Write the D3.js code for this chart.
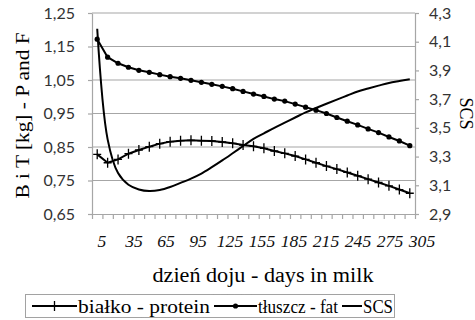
<!DOCTYPE html>
<html lang="pl">
<head>
<meta charset="utf-8">
<title>Białko, tłuszcz, SCS - dzień doju</title>
<script src="https://cdn.jsdelivr.net/npm/d3@7"></script>
<style>
  body { margin: 0; background: #fff; }
  .axis text { font-family: Lato, "Liberation Sans", sans-serif; font-size: 16px; fill: #333; }
  .serif { font-family: "Liberation Serif", "Times New Roman", "DejaVu Serif", "Liberation Sans", serif; }
</style>
</head>
<body>
<script>

// days in milk (categories)
var days = [5, 15, 25, 35, 45, 55, 65, 75, 85, 95, 105, 115, 125, 135, 145, 155,
            165, 175, 185, 195, 205, 215, 225, 235, 245, 255, 265, 275, 285, 295, 305];

// białko - protein [kg], left axis
var protein = [0.828, 0.803, 0.813, 0.830, 0.841, 0.851, 0.860, 0.866, 0.869, 0.870, 0.869,
               0.868, 0.865, 0.861, 0.856, 0.852, 0.846, 0.838, 0.831, 0.823, 0.813, 0.803,
               0.793, 0.784, 0.774, 0.764, 0.754, 0.744, 0.734, 0.723, 0.712];

// tłuszcz - fat [kg], left axis
var fat = [1.172, 1.118, 1.100, 1.088, 1.079, 1.073, 1.066, 1.060, 1.055, 1.049, 1.043,
           1.037, 1.031, 1.024, 1.016, 1.008, 1.001, 0.993, 0.987, 0.978, 0.969, 0.960,
           0.950, 0.938, 0.927, 0.916, 0.904, 0.893, 0.880, 0.868, 0.854];

// SCS, right axis
var scs = [4.19, 3.42, 3.185, 3.104, 3.071, 3.060, 3.067, 3.088, 3.117, 3.147, 3.182,
           3.226, 3.273, 3.323, 3.374, 3.424, 3.462, 3.500, 3.536, 3.572, 3.608, 3.638,
           3.668, 3.697, 3.725, 3.753, 3.774, 3.794, 3.813, 3.826, 3.838];

// tick labels
var leftTicks = [0.65, 0.75, 0.85, 0.95, 1.05, 1.15, 1.25];
var rightTicks = [2.9, 3.1, 3.3, 3.5, 3.7, 3.9, 4.1, 4.3];
var dayLabels = [5, 35, 65, 95, 125, 155, 185, 215, 245, 275, 305];

var w = 475, h = 320;
var pLeft = 92, pRight = 415, pTop = 13, pBottom = 214;
var gray = "#a6a6a6";

var pl = d3.formatLocale({decimal: ",", thousands: " ", grouping: [3], currency: ["", ""]});

var svg = d3.select("body").append("svg")
            .attr("width", w)
            .attr("height", h);

var x = d3.scaleBand().domain(days).range([pLeft, pRight]);
var yL = d3.scaleLinear().domain([0.65, 1.25]).range([pBottom, pTop]);
var yR = d3.scaleLinear().domain([2.9, 4.3]).range([pBottom, pTop]);
// category boundaries for the tick marks
var xEdge = d3.scaleLinear().domain([0, days.length]).range([pLeft, pRight]);
// label placement along the axis (labels drift right as in the original)
var xLab = d3.scaleLinear().domain([5, 305]).range([101.5, 421.5]);

function cxOf(i) { return x(days[i]) + x.bandwidth() / 2; }

// squeeze or stretch a text to a given width
function fitText(sel, width) {
  sel.attr("textLength", width).attr("lengthAdjust", "spacingAndGlyphs");
}

//Gridlines
svg.append("g")
   .selectAll("line")
   .data(leftTicks.slice(1))
   .enter()
   .append("line")
   .attr("x1", pLeft)
   .attr("x2", pRight)
   .attr("y1", function(d) { return yL(d); })
   .attr("y2", function(d) { return yL(d); })
   .attr("stroke", gray)
   .attr("stroke-width", 1.2);

//Axes
svg.append("g")
   .attr("class", "axis")
   .attr("transform", "translate(" + pLeft + ",0)")
   .call(d3.axisLeft(yL).tickValues(leftTicks).tickSize(4).tickSizeOuter(0).tickPadding(13)
           .tickFormat(pl.format(".2f")));

svg.append("g")
   .attr("class", "axis")
   .attr("transform", "translate(" + pRight + ",0)")
   .call(d3.axisRight(yR).tickValues(rightTicks).tickSize(4).tickSizeOuter(0).tickPadding(10)
           .tickFormat(pl.format(".1f")));

svg.append("g")
   .attr("class", "axis")
   .attr("transform", "translate(0," + pBottom + ")")
   .call(d3.axisBottom(xEdge).tickValues(d3.range(days.length + 1)).tickSize(5).tickSizeOuter(0)
           .tickFormat(""));

svg.selectAll(".axis path, .axis line")
   .attr("stroke", gray)
   .attr("stroke-width", 1.2);

//Day labels
var labs = svg.append("g")
   .attr("transform", "translate(0," + pBottom + ")")
   .call(d3.axisBottom(xLab).tickValues(dayLabels).tickSize(0).tickPadding(22));
labs.attr("font-family", null).attr("font-size", null);
labs.select(".domain").remove();
labs.selectAll("text")
   .attr("class", "serif")
   .attr("font-size", 16)
   .attr("font-style", "italic")
   .attr("fill", "#111")
   .each(function(d) {
     fitText(d3.select(this), String(d).length * 8.8);
   });

//Axis titles
var yTitle = svg.append("text")
   .attr("class", "serif")
   .attr("font-size", 19)
   .attr("text-anchor", "middle")
   .attr("transform", "translate(29," + ((pTop + pBottom) / 2 + 2) + ") rotate(-90)")
   .text("B i T [kg] - P and F");
fitText(yTitle, 166);

svg.append("text")
   .attr("class", "serif")
   .attr("font-size", 18)
   .attr("text-anchor", "middle")
   .attr("transform", "translate(460," + ((pTop + pBottom) / 2) + ") rotate(90)")
   .text("SCS");

var xTitle = svg.append("text")
   .attr("class", "serif")
   .attr("font-size", 20)
   .attr("text-anchor", "middle")
   .attr("x", 263)
   .attr("y", 282)
   .text("dzień doju - days in milk");
fitText(xTitle, 221);

//Series
var lineL = d3.line()
              .x(function(d, i) { return cxOf(i); })
              .y(function(d) { return yL(d); });
var lineR = d3.line()
              .x(function(d, i) { return cxOf(i); })
              .y(function(d) { return yR(d); })
              .curve(d3.curveCatmullRom);

svg.append("path")
   .attr("d", lineR(scs))
   .attr("fill", "none")
   .attr("stroke", "#000")
   .attr("stroke-width", 2);

svg.append("path")
   .attr("d", lineL(protein))
   .attr("fill", "none")
   .attr("stroke", "#000")
   .attr("stroke-width", 2);

svg.append("path")
   .attr("d", lineL(fat))
   .attr("fill", "none")
   .attr("stroke", "#000")
   .attr("stroke-width", 2);

var plus = "M-4,0H4M0,-5V5";

svg.append("g")
   .selectAll("path")
   .data(protein)
   .enter()
   .append("path")
   .attr("transform", function(d, i) { return "translate(" + cxOf(i) + "," + yL(d) + ")"; })
   .attr("d", plus)
   .attr("stroke", "#000")
   .attr("stroke-width", 1.3);

svg.append("g")
   .selectAll("circle")
   .data(fat)
   .enter()
   .append("circle")
   .attr("cx", function(d, i) { return cxOf(i); })
   .attr("cy", function(d) { return yL(d); })
   .attr("r", 2.6)
   .attr("fill", "#000");

//Legend (box 25..394 as in the original)
var legendItems = [
  {name: "białko - protein", marker: "plus", lx: 32, tx: 78, tw: 132},
  {name: "tłuszcz - fat", marker: "dot", lx: 214, tx: 258, tw: 80},
  {name: "SCS", marker: "none", lx: 342, tx: 363, tw: 30}
];
var legend = svg.append("g");
legend.append("rect")
      .attr("x", 25.5)
      .attr("y", 294.5)
      .attr("width", 369)
      .attr("height", 23)
      .attr("fill", "none")
      .attr("stroke", "#444")
      .attr("stroke-width", 1)
      .attr("stroke-dasharray", "1,1");
legendItems.forEach(function(d) {
  var g = legend.append("g").attr("transform", "translate(0,306)");
  g.append("line").attr("x1", d.lx).attr("x2", d.tx - 1).attr("stroke", "#000").attr("stroke-width", 2);
  var mid = (d.lx + d.tx - 1) / 2;
  if (d.marker == "plus") {
    g.append("path").attr("d", plus).attr("transform", "translate(" + mid + ",0)")
     .attr("stroke", "#000").attr("stroke-width", 1.3);
  } else if (d.marker == "dot") {
    g.append("circle").attr("cx", mid).attr("r", 2.6).attr("fill", "#000");
  }
  var t = g.append("text")
           .attr("class", "serif")
           .attr("font-size", 18)
           .attr("x", d.tx)
           .attr("y", 6.5)
           .text(d.name);
  fitText(t, d.tw);
});

</script>
</body>
</html>
